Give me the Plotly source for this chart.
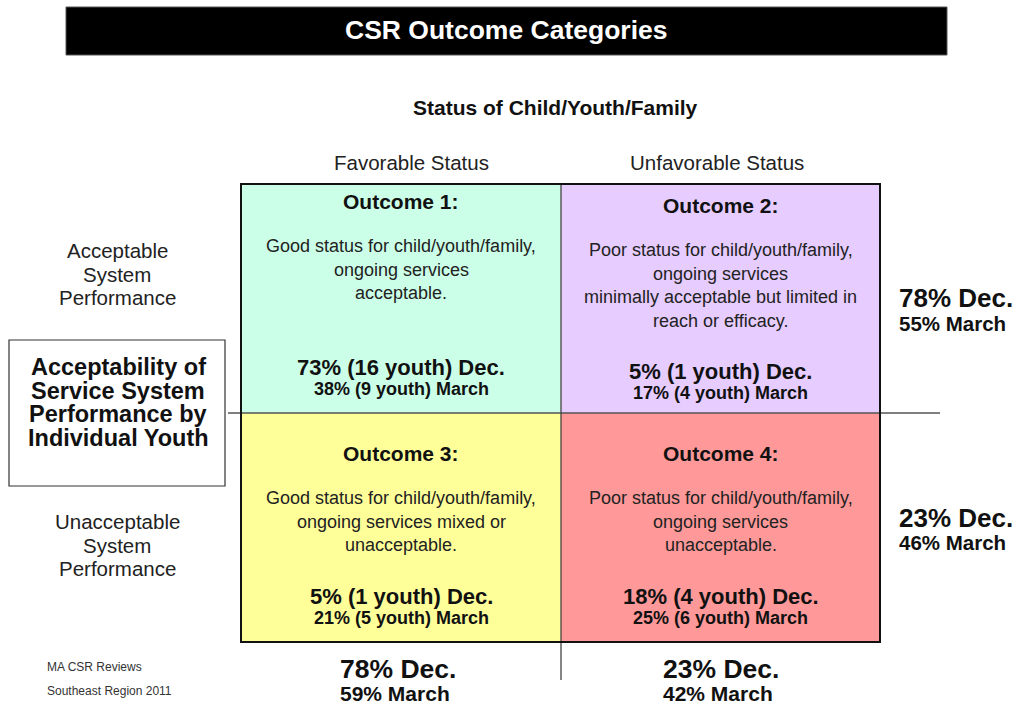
import plotly.graph_objects as go

# ---------------- data ----------------
title = "CSR Outcome Categories"
col_header = "Status of Child/Youth/Family"
col_labels = ["Favorable Status", "Unfavorable Status"]
row_labels = [["Acceptable", "System", "Performance"],
              ["Unacceptable", "System", "Performance"]]
box_label = ["Acceptability of", "Service System", "Performance by", "Individual Youth"]

outcome_names = ["Outcome 1:", "Outcome 2:", "Outcome 3:", "Outcome 4:"]
outcome_desc = [
    ["Good status for child/youth/family,", "ongoing services", "acceptable."],
    ["Poor status for child/youth/family,", "ongoing services",
     "minimally acceptable but limited in", "reach or efficacy."],
    ["Good status for child/youth/family,", "ongoing services mixed or", "unacceptable."],
    ["Poor status for child/youth/family,", "ongoing services", "unacceptable."],
]
dec_pct = [73, 5, 5, 18]
dec_youth = [16, 1, 1, 4]
mar_pct = [38, 17, 21, 25]
mar_youth = [9, 4, 5, 6]
quad_colors = ["#ccffe8", "#e6ccff", "#ffff99", "#ff9999"]

row_dec = [78, 23]
row_mar = [55, 46]
col_dec = [78, 23]
col_mar = [59, 42]
footnote = ["MA CSR Reviews", "Southeast Region 2011"]

# ---------------- layout geometry ----------------
FONT = "Liberation Sans, Arial, Helvetica, sans-serif"
X0, XM, X1 = 241, 561, 880
Y0, YM, Y1 = 184, 413, 642
quads = [(X0, XM, Y0, YM), (XM, X1, Y0, YM), (X0, XM, YM, Y1), (XM, X1, YM, Y1)]

fig = go.Figure()
shapes = []
ann = []

def text(x, y, s, size, bold=False, color="#111", anchor="center"):
    ann.append(dict(x=x, y=y, xref="x", yref="y", text=("<b>%s</b>" % s) if bold else s,
                    showarrow=False, xanchor=anchor, yanchor="middle",
                    font=dict(family=FONT, size=size, color=color)))

# title bar
shapes.append(dict(type="rect", x0=66, x1=947, y0=7, y1=55, fillcolor="black",
                   line=dict(color="#555", width=1), layer="below"))
text(506, 30, title, 26.5, bold=True, color="white")
text(555, 107, col_header, 21, bold=True)
text(411, 162, col_labels[0], 20.5, color="#222")
text(717, 162, col_labels[1], 20.5, color="#222")

# quadrants
for i, (a, b, c, d) in enumerate(quads):
    shapes.append(dict(type="rect", x0=a, x1=b, y0=c, y1=d, fillcolor=quad_colors[i],
                       line=dict(width=0), layer="below"))

# quadrant text positions
title_y = [201, 205, 453, 453]
desc_y0 = [246, 250, 498, 498]
stat_y = [367, 371, 596, 596]
for i, (a, b, c, d) in enumerate(quads):
    cx = (a + b) / 2
    text(cx, title_y[i], outcome_names[i], 21, bold=True)
    for k, line in enumerate(outcome_desc[i]):
        text(cx, desc_y0[i] + k * 23.7, line, 18, color="#222")
    text(cx, stat_y[i], "%d%% (%d youth) Dec." % (dec_pct[i], dec_youth[i]), 22, bold=True)
    text(cx, stat_y[i] + 22, "%d%% (%d youth) March" % (mar_pct[i], mar_youth[i]), 18, bold=True)

# grid lines
shapes.append(dict(type="line", x0=228, x1=940, y0=YM, y1=YM, line=dict(color="#555", width=1.3)))
shapes.append(dict(type="line", x0=XM, x1=XM, y0=Y0, y1=680, line=dict(color="#444", width=1.3)))
shapes.append(dict(type="rect", x0=X0, x1=X1, y0=Y0, y1=Y1, line=dict(color="#111", width=2)))

# left row labels
for r, ys in enumerate([[250, 274, 297], [521, 545, 568]]):
    for k, line in enumerate(row_labels[r]):
        text(117, ys[k], line, 20.5, color="#222")

# left box
shapes.append(dict(type="rect", x0=9, x1=225, y0=340, y1=486, fillcolor="white",
                   line=dict(color="#333", width=1.2)))
for k, line in enumerate(box_label):
    text(118, 367 + k * 23.7, line, 23.5, bold=True)

# right totals
for r, (yd, ym) in enumerate([(298, 323), (518, 542)]):
    text(897, yd, "%d%% Dec." % row_dec[r], 26, bold=True, anchor="left")
    text(897, ym, "%d%% March" % row_mar[r], 20.5, bold=True, anchor="left")

# bottom totals
for c, lx in enumerate([338, 661]):
    text(lx, 669, "%d%% Dec." % col_dec[c], 26.5, bold=True, anchor="left")
    text(lx, 693, "%d%% March" % col_mar[c], 21, bold=True, anchor="left")

# footnote
text(45, 667, footnote[0], 12, color="#333", anchor="left")
text(45, 691, footnote[1], 12, color="#333", anchor="left")

fig.update_layout(
    width=1016, height=706, margin=dict(l=0, r=0, t=0, b=0),
    paper_bgcolor="white", plot_bgcolor="white",
    xaxis=dict(range=[0, 1016], visible=False, fixedrange=True),
    yaxis=dict(range=[706, 0], visible=False, fixedrange=True),
    shapes=shapes, annotations=ann, showlegend=False,
)
fig.write_html("out.html", config={"displayModeBar": False},
               post_script="document.body.style.margin='0';document.body.style.overflow='hidden';")
